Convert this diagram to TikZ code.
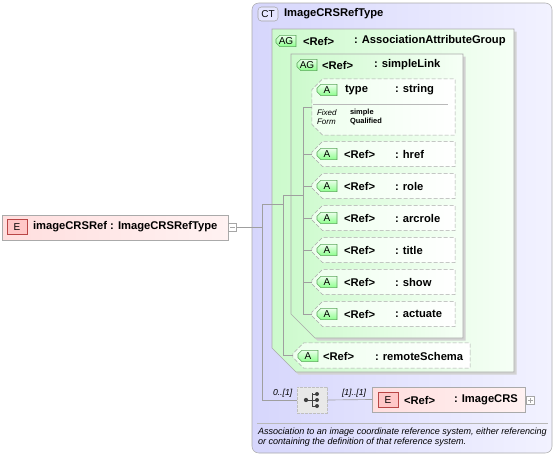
\documentclass[tikz,border=0pt]{standalone}
\usepackage{fontspec}
\setmainfont{Liberation Sans}
\usetikzlibrary{shapes.misc,fit,shadows}

\definecolor{ctdark}{RGB}{214,214,252}
\definecolor{ctlight}{RGB}{242,242,255}
\definecolor{agdark}{RGB}{204,250,204}
\definecolor{aglight}{RGB}{246,255,246}
\definecolor{elpink}{RGB}{255,222,222}
\definecolor{ellight}{RGB}{255,242,242}
\definecolor{edgegray}{RGB}{170,170,170}

\begin{document}
\begin{tikzpicture}[
		x=0.75pt, y=-0.75pt,
		every node/.style={inner sep=0pt, outer sep=0pt},
		lbl/.style={anchor=west, font=\fontsize{8.4}{10}\selectfont\bfseries},
		small/.style={anchor=west, font=\fontsize{6}{7}\selectfont},
		tree/.style={draw=gray!75, line width=0.5pt},
		ctbox/.style={draw=edgegray, rounded corners=5pt, left color=ctdark, right color=ctlight},
		% the chamfer is added outside the fitted box: 9pt = 12 units
		agbox/.style={chamfered rectangle, chamfered rectangle corners=south west,
			chamfered rectangle xsep=9pt, chamfered rectangle ysep=9pt,
			draw=edgegray, left color=agdark, right color=aglight,
			copy shadow={shadow xshift=2pt, shadow yshift=-2pt, draw=none, fill=gray!35}},
		% 4pt = 5.33 units
		attrbox/.style={chamfered rectangle, chamfered rectangle corners={north west,south west},
			chamfered rectangle xsep=4pt, chamfered rectangle ysep=4pt,
			draw=edgegray, dash pattern=on 3pt off 1.5pt, left color=green!7, right color=white},
		elbox/.style={draw=edgegray, left color=elpink, right color=ellight,
			copy shadow={shadow xshift=1pt, shadow yshift=-1pt, draw=none, fill=gray!30}},
		badge/.style={chamfered rectangle, chamfered rectangle corners={north west,south west},
			chamfered rectangle xsep=1.5pt, chamfered rectangle ysep=1.5pt,
			minimum width=15pt, minimum height=8.5pt, draw=green!30!gray,
			top color=green!8, bottom color=green!45, font=\fontsize{7.5}{8}\selectfont},
		ebadge/.style={draw=red!45!gray, fill=red!22, minimum width=15pt, minimum height=11pt,
			font=\fontsize{7.5}{8}\selectfont},
		expander/.style={draw=gray!70, fill=white, minimum size=6pt},
		seqbox/.style={draw=gray!50, dash pattern=on 2pt off 1pt, fill=gray!18}
	]
		\useasboundingbox (0,0) rectangle (556,457);

		% Complex type
		\node[ctbox, fit={(252,3) (552,453)}] (ct) {};
		\node[draw=gray!70, fill=blue!10, rounded corners=2.5pt, minimum width=15pt,
			minimum height=10.5pt, font=\fontsize{7.5}{8}\selectfont] (ctb) at (268,14) {CT};
		\node[lbl] (ctt) at (284,14) {ImageCRSRefType};

		% Attribute groups
		\node[agbox, fit={(284,41) (502,360)}] (assoc) {};
		\node[badge] (assocb) at (286,41) {AG};
		\node[lbl] (assocr) at (303,41) {<Ref>};
		\node[lbl] (assoct) at (354,41) {: AssociationAttributeGroup};

		\node[agbox, fit={(303,66) (451,326)}] (link) {};
		\node[badge] (linkb) at (307,65) {AG};
		\node[lbl] (linkr) at (322,65) {<Ref>};
		\node[lbl] (linkt) at (374,65) {: simpleLink};

		% Attributes
		\node[attrbox, fit={(317.3,84.3) (449.7,129.7)}] (typ) {};
		\node[badge] (typb) at (327,90) {A};
		\node[lbl] (typr) at (345,90) {type};
		\node[lbl] (typt) at (395,90) {: string};
		\draw[gray!55] (313,104) -- (448,104);
		\node[small, font=\fontsize{6}{7}\selectfont\itshape] (fixed) at (317,113) {Fixed};
		\node[small, font=\fontsize{6}{7}\selectfont\itshape] (form) at (317,122) {Form};
		\node[small, font=\fontsize{5.6}{7}\selectfont\bfseries] (fixedv) at (350,113) {simple};
		\node[small, font=\fontsize{5.6}{7}\selectfont\bfseries] (formv) at (350,122) {Qualified};

		\coordinate (jl) at (303,195);
		\coordinate (jg) at (283,204);
		\coordinate (jc) at (262,227.5);
		\draw[tree] (typ.west) -| (jl);

		\foreach \nm/\yy in {href/154,role/186,arcrole/218,title/250,show/282,actuate/314}{
			\node[attrbox, fit={(317.3,\yy-7.2) (449.7,\yy+7.2)}] (\nm) {};
			\node[badge] (\nm-b) at (327,\yy) {A};
			\node[lbl] (\nm-r) at (344,\yy) {<Ref>};
			\node[lbl] (\nm-t) at (395,\yy) {: \nm};
			\draw[tree] (\nm.west) -| (jl);
		}

		\node[attrbox, fit={(298.3,348.3) (464.7,362.7)}] (remote) {};
		\node[badge] (remoteb) at (308,356) {A};
		\node[lbl] (remoter) at (323,356) {<Ref>};
		\node[lbl] (remotet) at (375,356) {: remoteSchema};

		% Element
		\node[elbox, fit={(2,215) (228,240)}] (el) {};
		\node[ebadge] (elb) at (17,227) {E};
		\node[lbl] (elt) at (33,227) {imageCRSRef : ImageCRSRefType};
		\node[expander] (elx) at (232.5,227.5) {};
		\draw[gray!70] ([xshift=-1.8pt]elx.center) -- ([xshift=1.8pt]elx.center);

		% Sequence
		\node[seqbox, fit={(297,387) (327,413)}] (seq) {};
		\fill[black!75] ([shift={(-6,0)}]seq.center) circle (1.6pt);
		\draw[black!75, line width=0.7pt] ([shift={(-6,0)}]seq.center) -- ([shift={(0,0)}]seq.center)
			([shift={(0,-7)}]seq.center) -- ([shift={(0,7)}]seq.center);
		\foreach \dy in {-6,0,6}{
			\draw[black!75, line width=0.7pt] ([shift={(0,\dy)}]seq.center) -- ([shift={(4,\dy)}]seq.center);
			\fill[black!75] ([shift={(5,\dy)}]seq.center) circle (1.5pt);
		}

		\node[elbox, fit={(372,387) (525,412)}] (crs) {};
		\node[ebadge] (crsb) at (388,400) {E};
		\node[lbl] (crsr) at (404,400) {<Ref>};
		\node[lbl] (crst) at (454,400) {: ImageCRS};
		\node[expander] (crsx) at (530.5,400.5) {};
		\draw[gray!70] ([xshift=-1.8pt]crsx.center) -- ([xshift=1.8pt]crsx.center)
			([yshift=-1.8pt]crsx.center) -- ([yshift=1.8pt]crsx.center);

		% Edges
		\draw[tree] (elx) -- (jc);
		\draw[tree] (jl) -| (jg);
		\draw[tree] (remote.west) -| (jg);
		\draw[tree] (jg) -| (jc);
		\draw[tree] (seq.west) -| (jc);
		\draw[tree] (seq.east) -- (crs.west);

		% Occurrences
		\node[small, font=\fontsize{6.5}{8}\selectfont\itshape] (occ1) at (273,393) {0..[1]};
		\node[small, font=\fontsize{6.5}{8}\selectfont\itshape] (occ2) at (342,393) {[1]..[1]};

		% Annotation
		\draw[gray!55] (257,423) -- (548,423);
		\node[small, font=\fontsize{6.8}{8}\selectfont\itshape] (doc1) at (258,432)
			{Association to an image coordinate reference system, either referencing};
		\node[small, font=\fontsize{6.8}{8}\selectfont\itshape] (doc2) at (258,442.5)
			{or containing the definition of that reference system.};
	\end{tikzpicture}
\end{document}
